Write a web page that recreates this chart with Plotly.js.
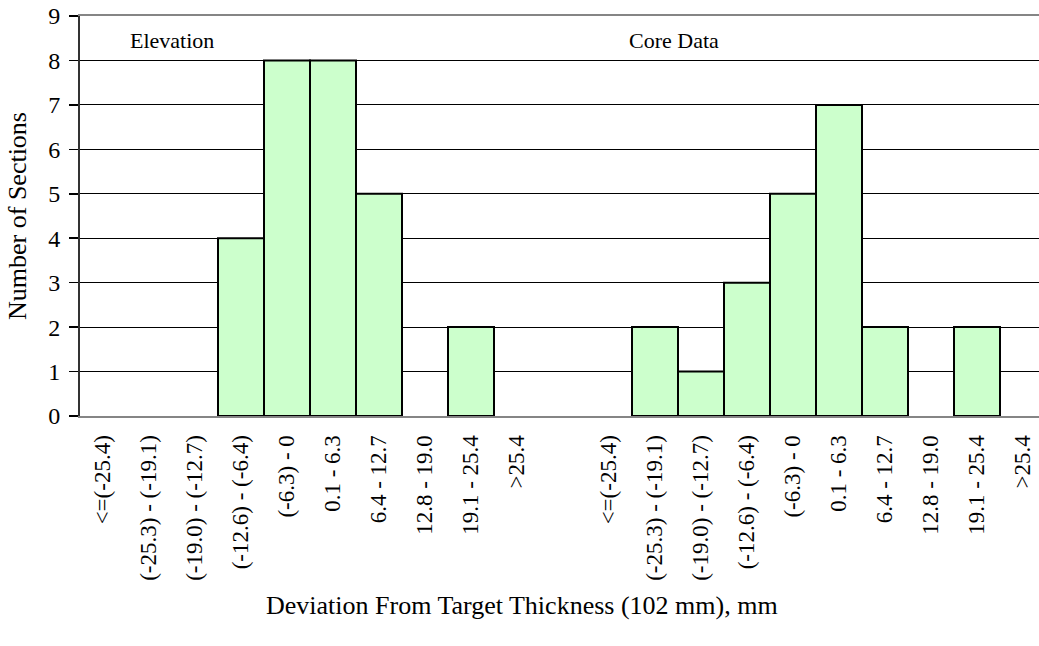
<!DOCTYPE html>
<html>
<head>
<meta charset="utf-8">
<script src="https://cdn.plot.ly/plotly-3.0.1.min.js"></script>
<style>html,body{margin:0;padding:0;background:#fff;}</style>
</head>
<body>
<div id="chart" style="width:1039px;height:646px;"></div>
<script>
// Bin labels (same for both groups)
var binLabels = ["<=(-25.4)", "(-25.3) - (-19.1)", "(-19.0) - (-12.7)", "(-12.6) - (-6.4)", "(-6.3) - 0", "0.1 - 6.3", "6.4 - 12.7", "12.8 - 19.0", "19.1 - 25.4", ">25.4"];
// Number of sections per bin
var elevationCounts = [0, 0, 0, 4, 8, 8, 5, 0, 2, 0];
var coreCounts = [0, 2, 1, 3, 5, 7, 2, 0, 2, 0];
var groupNames = ["Elevation", "Core Data"];
var xTitle = "Deviation From Target Thickness (102 mm), mm";
var yTitle = "Number of Sections";

// Build positions: elevation bins 0..9, blank at 10, core bins 11..20
var xs = [], ys = [], tickvals = [], ticktext = [];
binLabels.forEach(function (lab, i) {
  xs.push(i); ys.push(elevationCounts[i]);
  tickvals.push(i); ticktext.push(lab);
});
tickvals.push(binLabels.length); ticktext.push("");
var offset = binLabels.length + 1;
binLabels.forEach(function (lab, i) {
  xs.push(offset + i); ys.push(coreCounts[i]);
  tickvals.push(offset + i); ticktext.push(lab);
});
// no outline on empty bins
var lineWidths = ys.map(function (v) { return v > 0 ? 2 : 0; });

var font = "Liberation Serif";
var plotW = 1039 - 80;
var catW = 46;

var trace = {
  type: "bar",
  x: xs,
  y: ys,
  width: 1,
  marker: { color: "#CCFFCC", line: { color: "#000000", width: lineWidths } },
  hoverinfo: "x+y"
};

var layout = {
  width: 1039,
  height: 646,
  margin: { l: 80, r: 0, t: 16, b: 230 },
  paper_bgcolor: "#ffffff",
  plot_bgcolor: "#ffffff",
  showlegend: false,
  font: { family: font, color: "#000000", size: 23 },
  xaxis: {
    range: [-0.5, -0.5 + plotW / catW],
    tickmode: "array",
    tickvals: tickvals,
    ticktext: ticktext,
    tickangle: -90,
    ticks: "",
    showgrid: false,
    zeroline: false,
    showline: true,
    linecolor: "#858585",
    linewidth: 2,
    mirror: true,
    ticklabelstandoff: 8,
    tickfont: { family: font, size: 23, color: "#000000" },
    automargin: false
  },
  yaxis: {
    range: [0, 9],
    dtick: 1,
    tick0: 0,
    ticks: "outside",
    ticklen: 9,
    tickwidth: 1.5,
    tickcolor: "#000000",
    showgrid: true,
    gridcolor: "#000000",
    gridwidth: 1,
    zeroline: false,
    showline: true,
    linecolor: "#333333",
    linewidth: 2,
    ticklabelstandoff: 4,
    tickfont: { family: font, size: 24, color: "#000000" },
    title: { text: yTitle, font: { family: font, size: 26, color: "#000000" }, standoff: 14 },
    automargin: false
  },
  annotations: [
    { text: groupNames[0], x: 1.5, y: 8.45, xref: "x", yref: "y", showarrow: false, font: { family: font, size: 22, color: "#000000" } },
    { text: groupNames[1], x: 12.41, y: 8.45, xref: "x", yref: "y", showarrow: false, font: { family: font, size: 22, color: "#000000" } },
    { text: xTitle, x: 0.4609, y: -0.4725, xref: "paper", yref: "paper", xanchor: "center", yanchor: "middle", showarrow: false, font: { family: font, size: 26, color: "#000000" } }
  ]
};

Plotly.newPlot("chart", [trace], layout, { displayModeBar: false, staticPlot: true });
</script>
</body>
</html>
